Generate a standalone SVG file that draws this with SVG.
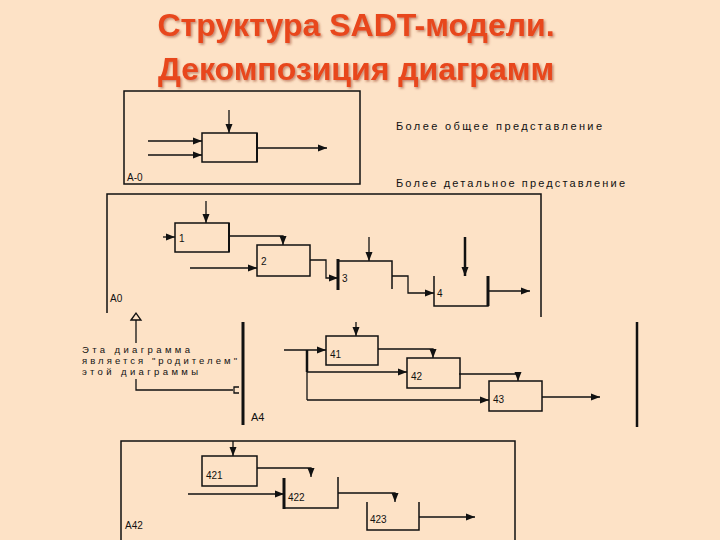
<svg xmlns="http://www.w3.org/2000/svg" width="720" height="540" viewBox="0 0 720 540">
<defs>
<marker id="ah" markerUnits="userSpaceOnUse" markerWidth="10" markerHeight="8" refX="9" refY="4" orient="auto"><path d="M0,0.5 L9,4 L0,7.5 z" fill="#111"/></marker>
<filter id="sh" x="-5%" y="-20%" width="110%" height="140%"><feDropShadow dx="1.5" dy="1.5" stdDeviation="0.8" flood-color="#8A2A10" flood-opacity="0.5"/></filter>
<style>
.bg{fill:#FDE2C6}
.t{font-family:"Liberation Sans",Arial,sans-serif;font-weight:bold;font-size:32px;text-anchor:middle;fill:#E8461C;filter:url(#sh)}
.lb{font-family:"Liberation Sans",Arial,sans-serif;font-size:10px;fill:#111}
.nt{font-family:"Liberation Sans",Arial,sans-serif;font-size:11px;fill:#111}
.ns{font-family:"Liberation Sans",Arial,sans-serif;font-size:9.5px;fill:#111}
.box{fill:none;stroke:#111;stroke-width:1.5}
.frm{fill:none;stroke:#111;stroke-width:1.5}
.bar{stroke:#111;stroke-width:3;fill:none}
#connectors path{fill:none;stroke:#111;stroke-width:1.3}
.ar{marker-end:url(#ah)}
</style>
</defs>
<rect class="bg" x="0" y="0" width="720" height="540"/>
<g id="title">
<text class="t" x="356" y="36">Структура SADT-модели.</text>
<text class="t" x="356" y="80">Декомпозиция диаграмм</text>
</g>
<g id="notes">
<text class="nt" x="396" y="130" textLength="206" lengthAdjust="spacing">Более общее представление</text>
<text class="nt" x="396" y="187" textLength="229" lengthAdjust="spacing">Более детальное представление</text>
<text class="ns" x="82" y="353" textLength="108" lengthAdjust="spacing">Эта диаграмма</text>
<text class="ns" x="82" y="364" textLength="155" lengthAdjust="spacing">является "родителем"</text>
<text class="ns" x="82" y="375" textLength="116" lengthAdjust="spacing">этой диаграммы</text>
</g>
<g id="frame-A-0">
<rect class="frm" x="124" y="91" width="236" height="93"/>
<text class="lb" x="127" y="181">А-0</text>
</g>
<g id="node-A-0">
<rect class="box" x="202" y="133" width="55" height="29"/>
<line class="bar" x1="257" y1="133" x2="257" y2="162" style="stroke-width:2"/>
</g>
<g id="frame-A0">
<path class="frm" d="M107,313 V194 H541 V317"/>
<text class="lb" x="110" y="302">А0</text>
</g>
<g id="node-1">
<rect class="box" x="175" y="223" width="54" height="29"/>
<line class="bar" x1="229" y1="223" x2="229" y2="252" style="stroke-width:2"/>
<text class="lb" x="179" y="242">1</text>
</g>
<g id="node-2">
<rect class="box" x="257" y="245" width="53" height="31"/>
<text class="lb" x="261" y="265">2</text>
</g>
<g id="node-3">
<path class="box" d="M338,289 V261 H392 V289"/>
<line class="bar" x1="338" y1="259" x2="338" y2="290"/>
<text class="lb" x="342" y="282">3</text>
</g>
<g id="node-4">
<path class="box" d="M434,276 V306 H488 V276"/>
<line class="bar" x1="488" y1="276" x2="488" y2="306"/>
<text class="lb" x="437" y="297">4</text>
</g>
<g id="frame-A4">
<line class="bar" x1="243" y1="322" x2="243" y2="425"/>
<line class="bar" x1="637" y1="322" x2="637" y2="427" style="stroke-width:2.5"/>
<text class="lb" x="251" y="421" style="font-size:11px">А4</text>
</g>
<g id="node-41">
<rect class="box" x="326" y="336" width="52" height="29"/>
<text class="lb" x="330" y="358">41</text>
</g>
<g id="node-42">
<rect class="box" x="407" y="358" width="53" height="30"/>
<text class="lb" x="411" y="380">42</text>
</g>
<g id="node-43">
<rect class="box" x="489" y="381" width="53" height="30"/>
<text class="lb" x="493" y="403">43</text>
</g>
<g id="frame-A42">
<path class="frm" d="M121,540 V441 H515 V540"/>
<text class="lb" x="125" y="529">А42</text>
</g>
<g id="node-421">
<rect class="box" x="202" y="456" width="55" height="30"/>
<text class="lb" x="206" y="479">421</text>
</g>
<g id="node-422">
<path class="box" d="M284,479 V508 H338 V477"/>
<line class="bar" x1="284" y1="478" x2="284" y2="509"/>
<text class="lb" x="288" y="501">422</text>
</g>
<g id="node-423">
<path class="box" d="M367,502 V530 H419 V502"/>
<text class="lb" x="370" y="523">423</text>
</g>
<g id="connectors">
<path class="ar" d="M229,110 V133"/>
<path class="ar" d="M148,141 H202"/>
<path class="ar" d="M148,155 H202"/>
<path class="ar" d="M257,148 H327"/>
<path class="ar" d="M206,201 V223"/>
<path class="ar" d="M163,237 H175"/>
<path class="ar" d="M229,236 H283 V245"/>
<path class="ar" d="M190,268 H257"/>
<path class="ar" d="M310,260 H326 V278 H338"/>
<path class="ar" d="M369,237 V261"/>
<path class="ar" d="M392,276 H408 V293 H434"/>
<path class="ar" d="M465,237 V276" style="stroke-width:2.5"/>
<path class="ar" d="M488,291 H530"/>
<path d="M136,320 V343"/>
<path d="M136,379 V390 H233"/>
<path d="M131,320 L136,313 L141,320 Z"/>
<path d="M239,387 H234 V393 H239"/>
<path class="ar" d="M356,322 V336"/>
<path class="ar" d="M284,350 H326"/>
<path d="M307,350 V372" style="stroke-width:2.5"/>
<path d="M307,372 V400"/>
<path class="ar" d="M307,372 H407"/>
<path class="ar" d="M307,400 H489"/>
<path class="ar" d="M378,349 H433 V358"/>
<path class="ar" d="M459,374 H518 V381"/>
<path class="ar" d="M542,397 H600"/>
<path class="ar" d="M233,441 V456"/>
<path class="ar" d="M257,468 H311 V477"/>
<path class="ar" d="M188,494 H284"/>
<path class="ar" d="M338,493 H395 V502"/>
<path class="ar" d="M419,517 H475"/>
</g>
</svg>
